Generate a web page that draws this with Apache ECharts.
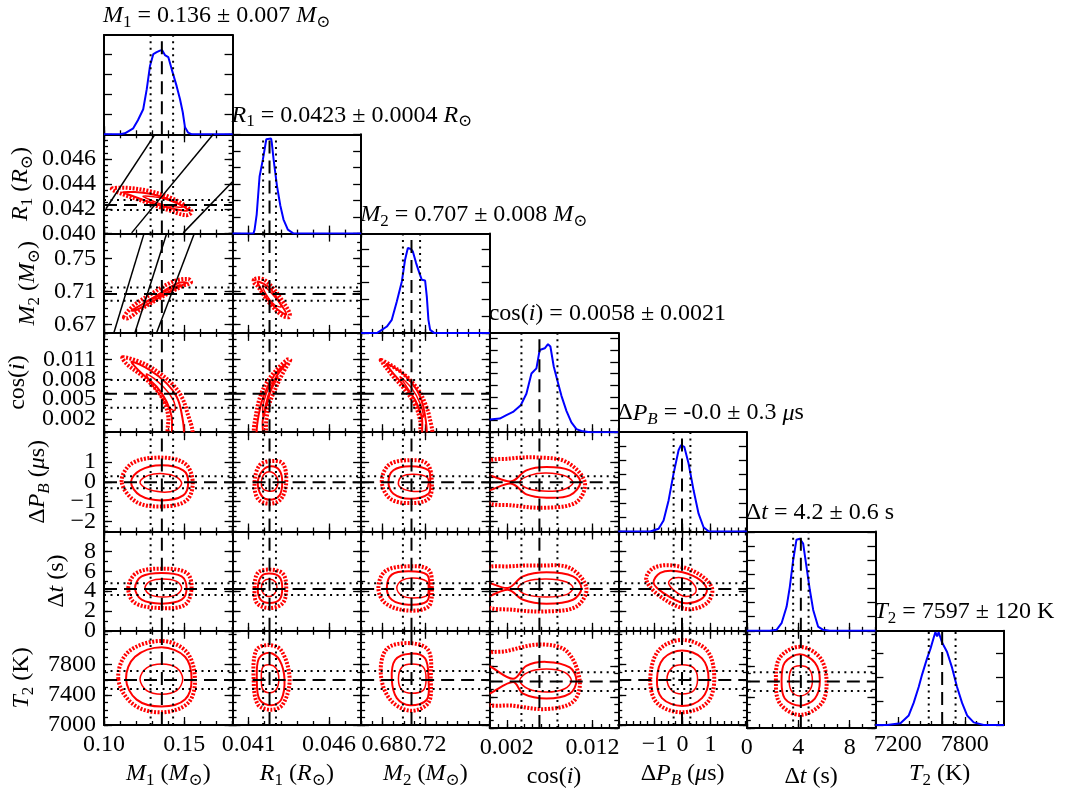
<!DOCTYPE html>
<html>
<head>
<meta charset="utf-8">
<script src="https://cdn.jsdelivr.net/npm/echarts@6/dist/echarts.min.js"></script>
<style>
html, body { margin: 0; padding: 0; background: #fff; }
#chart { width: 1065px; height: 790px; }
</style>
</head>
<body>
<div id="chart"></div>
<script>
// Corner plot of the posterior for seven fitted parameters:
// M1, R1, M2, cos(i), dP_B, dt, T2 (in that order everywhere below).

const SERIF = "'Liberation Serif', 'DejaVu Serif', serif";
const FS = 24;
const FS_SUB = 17;

const medians = [0.136, 0.0423, 0.707, 0.0058, -0.02, 4.2, 7597];
const sigmas = [0.007, 0.0004, 0.008, 0.0021, 0.3, 0.6, 120];
const summaryDecimals = [3, 4, 3, 4, 1, 1, 0];

// axis ranges (x: column variable, y: row variable)
const xMin = [0.10, 0.040, 0.66, 0, -2.3, 0, 7000];
const xMax = [0.18, 0.048, 0.78, 0.015, 2.3, 10, 8150];
const yMin = [null, 0.040, 0.66, 0, -2.5, 0, 7000];
const yMax = [null, 0.048, 0.78, 0.015, 2.5, 10, 8250];

// tick marks
const xMajor = [[0.10, 0.15], [0.041, 0.046], [0.68, 0.72], [0.002, 0.012], [-1, 0, 1], [0, 4, 8], [7200, 7800]];
const xMinorStep = [0.01, 0.001, 0.01, 0.001, 0.25, 1, 100];
const yMajor = [null, [0.040, 0.042, 0.044, 0.046], [0.67, 0.71, 0.75], [0.002, 0.005, 0.008, 0.011], [-2, -1, 0, 1], [0, 2, 4, 6, 8], [7000, 7400, 7800]];
const yMinorStep = [null, 0.0005, 0.01, 0.001, 0.25, 1, 100];
const tickDecimals = [2, 3, 2, 3, 0, 0, 0];
const yNameGap = [null, 68, 61, 71, 51, 32, 67];

// marginal histograms: [value, height]
const histTop = [4.95, 6, 5.93, 8.46, 6.97, 7.04, 3.96];
const histM1 = [[0.10,0],[0.110,0],[0.113,0.05],[0.1182,0.3],[0.1211,0.7],[0.1244,1.25],[0.1266,2.25],[0.1286,3.4],[0.1307,4.0],[0.1328,4.1],[0.1348,4.17],[0.1361,4.2],[0.1379,3.95],[0.140,3.85],[0.1421,3.25],[0.1452,2.4],[0.1473,1.75],[0.149,1.1],[0.1504,0.35],[0.1524,0.08],[0.1547,0],[0.18,0]];
const histR1 = [[0.040,0],[0.0413,0],[0.04137,0.24],[0.0415,1.15],[0.04168,3.45],[0.04189,4.5],[0.0421,5.7],[0.0422,5.74],[0.0424,5.74],[0.04244,5.5],[0.04255,4.5],[0.04276,2.9],[0.04297,1.7],[0.04317,0.85],[0.04344,0.24],[0.0438,0],[0.048,0]];
const histM2 = [[0.66,0],[0.675,0],[0.6793,0.18],[0.684,0.38],[0.6886,0.78],[0.6933,1.87],[0.698,3.07],[0.701,4.37],[0.7036,5.07],[0.7064,5.01],[0.7082,4.87],[0.7113,4.17],[0.7144,3.57],[0.7166,3.17],[0.7197,3.13],[0.7213,2.17],[0.7228,0.78],[0.7244,0.18],[0.7281,0],[0.78,0]];
const histCos = [[0,1.08],[0.00117,1.16],[0.00195,1.45],[0.00272,1.73],[0.00362,2.3],[0.00428,3.28],[0.00487,5.0],[0.00545,5.44],[0.00583,7.0],[0.00642,7.15],[0.0068,7.5],[0.00708,7.3],[0.00747,5.6],[0.00797,4.2],[0.00837,3.1],[0.00895,1.82],[0.00953,0.83],[0.01012,0.26],[0.0107,0.1],[0.0117,0],[0.015,0]];
const histDP = [[-2.3,0],[-1.155,0],[-0.858,0.19],[-0.68,0.77],[-0.5,2.18],[-0.322,4.06],[-0.143,5.7],[-0.057,6.06],[0.061,5.94],[0.215,4.77],[0.394,2.89],[0.573,1.25],[0.751,0.3],[0.93,0.02],[1.17,0],[2.3,0]];
const histDt = [[0,0],[1.79,0],[2.31,0.07],[2.7,0.54],[3.09,1.7],[3.34,3.1],[3.6,5.0],[3.86,6.46],[4.12,6.53],[4.38,6.18],[4.64,4.53],[4.9,2.89],[5.16,1.48],[5.54,0.3],[5.93,0.07],[6.45,0],[10,0]];
const histT2 = [[7000,0],[7105,0],[7224,0.07],[7298,0.4],[7342,0.93],[7387,1.6],[7418,2.13],[7462,2.8],[7492,3.2],[7521,3.67],[7536,3.9],[7552,3.73],[7566,3.9],[7596,3.47],[7641,3.07],[7686,2.4],[7730,1.6],[7775,0.93],[7820,0.4],[7879,0.11],[7968,0],[8150,0]];
const hists = [histM1, histR1, histM2, histCos, histDP, histDt, histT2];

// joint contours: [outer, middle, inner] rings in data units (x = column var, y = row var)
const ringsR1M1 = [
  [[0.1048,0.04361],[0.1141,0.04369],[0.1286,0.04342],[0.1431,0.04280],[0.1545,0.04180],[0.1514,0.04148],[0.1390,0.04194],[0.1244,0.04261],[0.1120,0.04315]],
  [[0.1120,0.04334],[0.1286,0.04321],[0.1431,0.04261],[0.1524,0.04188],[0.1431,0.04200],[0.1286,0.04253],[0.1182,0.04301]],
  [[0.1244,0.04301],[0.1369,0.04283],[0.1490,0.04216],[0.1390,0.04226],[0.1307,0.04261]]
];
const ringsM2M1 = [
  [[0.1124,0.6790],[0.1182,0.6927],[0.1286,0.7061],[0.1431,0.7222],[0.1524,0.7251],[0.1541,0.7210],[0.1483,0.7161],[0.1348,0.7021],[0.1224,0.6879],[0.1151,0.6778]],
  [[0.1172,0.6870],[0.1286,0.7000],[0.1452,0.7194],[0.1514,0.7210],[0.1473,0.7161],[0.1328,0.7008],[0.1203,0.6879]],
  [[0.1244,0.6960],[0.1369,0.7088],[0.1473,0.7182],[0.1431,0.7121],[0.1328,0.7033]]
];
const ringsM2R1 = [
  [[0.04137,0.7251],[0.04188,0.7251],[0.04251,0.7142],[0.04313,0.6979],[0.04355,0.6839],[0.04350,0.6790],[0.04303,0.6818],[0.04230,0.6960],[0.04157,0.7161],[0.04131,0.7214]],
  [[0.04157,0.7222],[0.04230,0.7142],[0.04303,0.6939],[0.04334,0.6827],[0.04282,0.6879],[0.04210,0.7021],[0.04168,0.7161]],
  [[0.04188,0.7170],[0.04251,0.7061],[0.04303,0.6919],[0.04261,0.6939],[0.04210,0.7061]]
];
const ringsCosM1 = [
  [[0.1116,0.01132],[0.1244,0.01041],[0.1348,0.00889],[0.1431,0.00712],[0.1483,0.00535],[0.1514,0.00333],[0.1545,-0.0006],[0.1406,-0.0006],[0.1400,0.00232],[0.1379,0.00435],[0.1328,0.00636],[0.1244,0.00838],[0.1141,0.01030]],
  [[0.1172,0.01065],[0.1286,0.00939],[0.1390,0.00738],[0.1452,0.00535],[0.1483,0.00283],[0.1493,-0.0006],[0.1431,-0.0006],[0.1421,0.00232],[0.1390,0.00459],[0.1328,0.00686],[0.1224,0.00914]],
  [[0.1266,0.00879],[0.1369,0.00686],[0.1431,0.00485],[0.1442,0.00333],[0.1400,0.00383],[0.1348,0.00561],[0.1286,0.00762]]
];
const ringsCosR1 = [
  [[0.04359,0.01091],[0.04323,0.00939],[0.04272,0.00686],[0.04230,0.00435],[0.04210,0.00182],[0.04199,-0.0006],[0.04137,-0.0006],[0.04147,0.00283],[0.04179,0.00586],[0.04230,0.00814],[0.04292,0.00989],[0.04344,0.01101]],
  [[0.04334,0.01041],[0.04272,0.00838],[0.04220,0.00535],[0.04188,0.00182],[0.04185,-0.0006],[0.04151,-0.0006],[0.04164,0.00283],[0.04199,0.00586],[0.04261,0.00864]],
  [[0.04282,0.00838],[0.04241,0.00636],[0.04210,0.00383],[0.04193,0.00232],[0.04188,0.00383],[0.04210,0.00586],[0.04241,0.00738]]
];
const ringsCosM2 = [
  [[0.6784,0.01091],[0.6901,0.00989],[0.7026,0.00838],[0.7135,0.00636],[0.7197,0.00435],[0.7237,0.00232],[0.7260,-0.0006],[0.7166,-0.0006],[0.7150,0.00182],[0.7104,0.00409],[0.7011,0.00636],[0.6901,0.00838],[0.6808,0.01030]],
  [[0.6840,0.01030],[0.6995,0.00879],[0.7120,0.00636],[0.7181,0.00383],[0.7213,-0.0006],[0.7175,-0.0006],[0.7166,0.00232],[0.7104,0.00485],[0.6995,0.00712],[0.6886,0.00914]],
  [[0.6964,0.00838],[0.7073,0.00662],[0.7150,0.00435],[0.7181,0.00232],[0.7150,0.00283],[0.7104,0.00485],[0.7026,0.00686]]
];
const ringsDpM1 = [
  [[0.1110,-0.010],[0.1172,0.919],[0.1348,1.222],[0.1504,0.919],[0.1552,-0.010],[0.1514,-0.934],[0.1369,-1.237],[0.1203,-1.020]],
  [[0.1168,-0.010],[0.1224,0.581],[0.1359,0.833],[0.1493,0.581],[0.1524,-0.010],[0.1493,-0.682],[0.1359,-0.934],[0.1224,-0.682]],
  [[0.1224,-0.010],[0.1276,0.328],[0.1369,0.414],[0.1452,0.242],[0.1483,-0.091],[0.1442,-0.430],[0.1359,-0.515],[0.1266,-0.344]]
];
const ringsDpR1 = [
  [[0.04137,-0.010],[0.04168,0.833],[0.04241,1.050],[0.04313,0.919],[0.04334,-0.010],[0.04303,-0.849],[0.04230,-1.101],[0.04157,-0.849]],
  [[0.04157,-0.010],[0.04188,0.581],[0.04241,0.783],[0.04292,0.581],[0.04309,-0.010],[0.04292,-0.682],[0.04230,-0.899],[0.04179,-0.682]],
  [[0.04179,-0.010],[0.04199,0.414],[0.04241,0.495],[0.04276,0.242],[0.04282,-0.091],[0.04261,-0.430],[0.04220,-0.465],[0.04188,-0.344]]
];
const ringsDpM2 = [
  [[0.6793,-0.010],[0.6855,0.833],[0.7026,1.086],[0.7213,0.919],[0.7260,-0.010],[0.7228,-0.849],[0.7057,-1.071],[0.6871,-0.849]],
  [[0.6855,-0.010],[0.6901,0.581],[0.7057,0.783],[0.7228,0.581],[0.7244,-0.010],[0.7228,-0.596],[0.7057,-0.849],[0.6901,-0.596]],
  [[0.6948,-0.010],[0.6980,0.278],[0.7088,0.379],[0.7213,0.242],[0.7228,-0.091],[0.7197,-0.430],[0.7057,-0.465],[0.6964,-0.263]]
];
const ringsDpCos = [
  [[-0.0005,0.919],[0.00233,1.171],[0.00584,1.222],[0.00895,1.000],[0.01109,-0.010],[0.01012,-1.020],[0.00662,-1.303],[0.00272,-1.187],[-0.0005,-0.934]],
  [[-0.0005,0.328],[0.00253,0.025],[0.00428,0.581],[0.00662,0.747],[0.00934,0.581],[0.01058,-0.010],[0.00934,-0.682],[0.00662,-0.798],[0.00428,-0.632],[0.00253,-0.091],[-0.0005,-0.430]],
  [[0.00350,-0.010],[0.00467,0.328],[0.00662,0.444],[0.00895,0.278],[0.00972,-0.061],[0.00855,-0.394],[0.00622,-0.465],[0.00428,-0.313]]
];
const ringsDtM1 = [
  [[0.1151,4.31],[0.1203,5.83],[0.1359,6.26],[0.1514,5.83],[0.1545,4.31],[0.1504,2.63],[0.1359,2.29],[0.1193,2.80]],
  [[0.1193,4.31],[0.1234,5.48],[0.1359,5.83],[0.1483,5.48],[0.1514,4.31],[0.1483,3.13],[0.1359,2.73],[0.1234,3.13]],
  [[0.1255,4.31],[0.1286,4.98],[0.1369,5.22],[0.1452,4.98],[0.1483,4.31],[0.1452,3.64],[0.1369,3.40],[0.1286,3.64]]
];
const ringsDtR1 = [
  [[0.04137,4.31],[0.04157,5.83],[0.04230,6.16],[0.04313,5.76],[0.04334,4.31],[0.04313,2.80],[0.04230,2.29],[0.04151,2.80]],
  [[0.04157,4.31],[0.04179,5.48],[0.04230,5.76],[0.04292,5.42],[0.04309,4.31],[0.04292,3.13],[0.04230,2.80],[0.04174,3.13]],
  [[0.04179,4.31],[0.04193,4.98],[0.04230,5.22],[0.04267,4.92],[0.04276,4.31],[0.04261,3.74],[0.04226,3.46],[0.04193,3.74]]
];
const ringsDtM2 = [
  [[0.6761,4.31],[0.6824,5.99],[0.7026,6.49],[0.7228,6.16],[0.7260,4.31],[0.7228,2.45],[0.7026,2.05],[0.6824,2.80]],
  [[0.6840,4.31],[0.6886,5.66],[0.7041,5.99],[0.7213,5.66],[0.7237,4.31],[0.7213,2.96],[0.7041,2.63],[0.6886,3.13]],
  [[0.6933,4.31],[0.6980,5.08],[0.7088,5.32],[0.7213,4.98],[0.7228,4.31],[0.7213,3.54],[0.7088,3.30],[0.6980,3.54]]
];
const ringsDtCos = [
  [[-0.0005,6.16],[0.00233,6.49],[0.00584,6.57],[0.00934,6.33],[0.01128,4.31],[0.01012,2.45],[0.00662,1.95],[0.00272,2.12],[-0.0005,2.63]],
  [[-0.0005,4.82],[0.00214,4.31],[0.00389,5.48],[0.00662,5.89],[0.00972,5.48],[0.0107,4.31],[0.00972,3.13],[0.00662,2.73],[0.00389,3.13],[0.00214,4.14],[-0.0005,3.46]],
  [[0.00330,4.31],[0.00428,4.98],[0.00662,5.22],[0.00895,4.92],[0.00972,4.31],[0.00895,3.64],[0.00662,3.40],[0.00428,3.64]]
];
const ringsDtDp = [
  [[-1.298,5.15],[-1.037,6.33],[-0.322,6.57],[0.515,5.83],[1.052,4.31],[0.873,2.80],[0.157,2.19],[-0.798,3.46]],
  [[-1.037,4.82],[-0.798,5.83],[-0.200,5.99],[0.515,5.32],[0.873,4.14],[0.633,3.13],[0.036,2.80],[-0.680,3.80]],
  [[-0.501,4.82],[-0.322,5.32],[0.157,5.22],[0.454,4.47],[0.454,3.81],[0.097,3.46],[-0.261,3.97]]
];
const ringsT2M1 = [
  [[0.1089,7610],[0.1151,7969],[0.1359,8115],[0.1514,7969],[0.1566,7610],[0.1524,7294],[0.1359,7168],[0.1182,7274]],
  [[0.1137,7610],[0.1193,7906],[0.1359,8032],[0.1504,7906],[0.1545,7610],[0.1504,7337],[0.1359,7244],[0.1203,7337]],
  [[0.1224,7610],[0.1266,7758],[0.1359,7808],[0.1452,7758],[0.1490,7610],[0.1452,7455],[0.1359,7408],[0.1266,7455]]
];
const ringsT2R1 = [
  [[0.04131,7610],[0.04147,7989],[0.04220,8061],[0.04303,7989],[0.04355,7610],[0.04313,7274],[0.04241,7202],[0.04157,7274]],
  [[0.04151,7610],[0.04164,7884],[0.04230,7960],[0.04292,7863],[0.04323,7610],[0.04303,7337],[0.04241,7261],[0.04168,7337]],
  [[0.04179,7610],[0.04188,7767],[0.04230,7799],[0.04272,7749],[0.04288,7610],[0.04272,7471],[0.04230,7429],[0.04188,7471]]
];
const ringsT2M2 = [
  [[0.6784,7673],[0.6840,8010],[0.7057,8086],[0.7228,7989],[0.7250,7610],[0.7228,7294],[0.7057,7189],[0.6871,7337]],
  [[0.6886,7610],[0.6917,7863],[0.7057,7947],[0.7197,7884],[0.7228,7610],[0.7213,7337],[0.7057,7261],[0.6933,7357]],
  [[0.6948,7610],[0.6980,7767],[0.7073,7808],[0.7181,7767],[0.7206,7610],[0.7181,7463],[0.7073,7421],[0.6980,7463]]
];
const ringsT2Cos = [
  [[-0.0005,7926],[0.00195,7989],[0.00584,8074],[0.00895,7989],[0.0105,7610],[0.00972,7337],[0.00662,7244],[0.00272,7287],[-0.0005,7337]],
  [[-0.0005,7799],[0.00272,7632],[0.00428,7799],[0.00662,7850],[0.00934,7779],[0.01012,7610],[0.00934,7442],[0.00662,7379],[0.00389,7442],[0.00272,7590],[-0.0005,7442]],
  [[0.0035,7610],[0.00447,7716],[0.00662,7758],[0.00875,7716],[0.00953,7610],[0.00875,7505],[0.00662,7463],[0.00447,7505]]
];
const ringsT2Dp = [
  [[-1.155,7610],[-0.858,7989],[-0.021,8128],[0.873,7989],[1.134,7610],[0.873,7294],[-0.021,7168],[-0.916,7294]],
  [[-0.916,7610],[-0.680,7884],[-0.021,7989],[0.694,7884],[0.930,7610],[0.694,7357],[-0.021,7253],[-0.737,7357]],
  [[-0.558,7610],[-0.379,7758],[-0.021,7799],[0.394,7758],[0.537,7610],[0.394,7455],[-0.021,7413],[-0.379,7455]]
];
const ringsT2Dt = [
  [[2.26,7610],[2.57,7906],[4.12,8044],[5.68,7906],[6.20,7610],[5.81,7316],[4.12,7168],[2.57,7316]],
  [[2.70,7610],[2.95,7842],[4.12,7947],[5.29,7842],[5.68,7610],[5.29,7379],[4.12,7287],[2.95,7379]],
  [[3.29,7610],[3.48,7758],[4.12,7799],[4.84,7758],[5.10,7610],[4.84,7471],[4.12,7413],[3.48,7471]]
];

// [row, column, contours]
const jointPanels = [
  [1, 0, ringsR1M1],
  [2, 0, ringsM2M1], [2, 1, ringsM2R1],
  [3, 0, ringsCosM1], [3, 1, ringsCosR1], [3, 2, ringsCosM2],
  [4, 0, ringsDpM1], [4, 1, ringsDpR1], [4, 2, ringsDpM2], [4, 3, ringsDpCos],
  [5, 0, ringsDtM1], [5, 1, ringsDtR1], [5, 2, ringsDtM2], [5, 3, ringsDtCos], [5, 4, ringsDtDp],
  [6, 0, ringsT2M1], [6, 1, ringsT2R1], [6, 2, ringsT2M2], [6, 3, ringsT2Cos], [6, 4, ringsT2Dp], [6, 5, ringsT2Dt]
];

// solid constraint lines in the M1 column
const constraintR1M1 = [[[0.1012,0.0420],[0.1317,0.048]], [[0.1172,0.04006],[0.168,0.048]], [[0.1493,0.04006],[0.1804,0.04423]]];
const constraintM2M1 = [[[0.1062,0.6604],[0.1249,0.78]], [[0.1193,0.6604],[0.139,0.78]], [[0.1328,0.6604],[0.1562,0.78]]];

// ---------- text ----------
const tok = (cls, s) => '{' + cls + '|' + s + '}';
const RICH = {
  rm: { fontFamily: SERIF, fontSize: FS, fontWeight: 'normal', fontStyle: 'normal', color: '#000', lineHeight: 27, verticalAlign: 'top' },
  it: { fontFamily: SERIF, fontSize: FS, fontWeight: 'normal', fontStyle: 'italic', color: '#000', lineHeight: 27, verticalAlign: 'top' },
  sb: { fontFamily: SERIF, fontSize: FS_SUB, fontWeight: 'normal', fontStyle: 'normal', color: '#000', lineHeight: 17, verticalAlign: 'top', padding: [10, 0, 0, 0] },
  si: { fontFamily: SERIF, fontSize: FS_SUB, fontWeight: 'normal', fontStyle: 'italic', color: '#000', lineHeight: 17, verticalAlign: 'top', padding: [10, 0, 0, 0] }
};
const symbolText = [
  tok('it', 'M') + tok('sb', '1'),
  tok('it', 'R') + tok('sb', '1'),
  tok('it', 'M') + tok('sb', '2'),
  tok('rm', 'cos(') + tok('it', 'i') + tok('rm', ')'),
  tok('rm', '\u0394') + tok('it', 'P') + tok('si', 'B'),
  tok('rm', '\u0394') + tok('it', 't'),
  tok('it', 'T') + tok('sb', '2')
];
const unitText = [
  tok('it', 'M') + tok('sb', '\u2299'),
  tok('it', 'R') + tok('sb', '\u2299'),
  tok('it', 'M') + tok('sb', '\u2299'),
  '',
  tok('it', '\u03bc') + tok('rm', 's'),
  tok('rm', 's'),
  tok('rm', 'K')
];
const axisName = k => unitText[k] ? symbolText[k] + tok('rm', ' (') + unitText[k] + tok('rm', ')') : symbolText[k];
const summaryText = k => symbolText[k] + tok('rm', ' = ' + medians[k].toFixed(summaryDecimals[k]) + ' \u00b1 ' + sigmas[k].toFixed(summaryDecimals[k]) + (unitText[k] ? ' ' : '')) + unitText[k];

// ---------- helpers ----------
function seq(lo, hi, step) {
  const out = [];
  const k0 = Math.ceil(lo / step - 1e-6), k1 = Math.floor(hi / step + 1e-6);
  for (let k = k0; k <= k1; k++) out.push(Number((k * step).toPrecision(12)));
  return out;
}
function fmtTick(v, d) {
  const s = Math.abs(v).toFixed(d);
  return v < -1e-12 ? '\u2212' + s : s;
}
const evenItems = arr => arr ? arr.filter((v, i) => i % 2 === 0) : null;
const oddItems = arr => arr ? arr.filter((v, i) => i % 2 === 1) : null;

const W = 128.57, H = 99.3, X0 = 104, Y0 = 35;
const colLeft = c => X0 + c * W;
const rowTop = r => Y0 + r * H;

const grids = [], xAxes = [], yAxes = [], series = [], titles = [];

function mkAxis(gridIndex, position, min, max, o) {
  const ax = {
    type: 'value', gridIndex, position, min, max, silent: true,
    splitLine: { show: false },
    axisLine: { show: !!o.line, onZero: false, lineStyle: { color: '#000', width: 2 } },
    axisTick: { show: !!o.ticks, inside: true, length: o.len || 8, lineStyle: { color: '#000', width: 1.3 }, customValues: o.ticks || [] },
    axisLabel: { show: !!(o.labels && o.labels.length), customValues: o.labels || [], margin: o.margin || 8, formatter: o.fmt,
      interval: 0, showMinLabel: true, showMaxLabel: true, hideOverlap: false,
      fontFamily: SERIF, fontSize: FS, color: '#000' }
  };
  if (o.name) {
    ax.name = o.name;
    ax.nameLocation = 'middle';
    ax.nameGap = o.nameGap;
    if (o.rotate) ax.nameRotate = o.rotate;
    ax.nameTextStyle = { rich: RICH, fontFamily: SERIF, fontSize: FS, color: '#000' };
  }
  return ax;
}
const pushX = a => (xAxes.push(a), xAxes.length - 1);
const pushY = a => (yAxes.push(a), yAxes.length - 1);

const DASH = { color: '#000', width: 2, type: [13, 7] };
const DOT = { color: '#000', width: 2, type: [2, 4.5] };
function lineSeries(xi, yi, data, style, z) {
  series.push({ type: 'line', xAxisIndex: xi, yAxisIndex: yi, data, symbol: 'none', silent: true,
    animation: false, z: z, lineStyle: style });
}

const RING_STYLE = [
  { lineWidth: 4, lineDash: [2, 1.5] },
  { lineWidth: 2, lineDash: null },
  { lineWidth: 1.5, lineDash: null }
];

// ---------- build panels ----------
// tick labels alternate between the two axes on a side so neighbouring labels never compete for space
for (let r = 0; r < 7; r++) {
  for (let c = 0; c <= r; c++) {
    const g = grids.length;
    grids.push({ left: colLeft(c), top: rowTop(r), width: W, height: H, containLabel: false });
    const bottomRow = r === 6;
    const xmin = xMin[c], xmax = xMax[c];
    const xMinorTicks = seq(xmin, xmax, xMinorStep[c]);
    const xFmt = v => fmtTick(v, tickDecimals[c]);
    const xLab = bottomRow ? xMajor[c] : null;

    // bottom x axis (minor + major)
    pushX(mkAxis(g, 'bottom', xmin, xmax, { ticks: xMinorTicks, len: 4, labels: oddItems(xLab), fmt: xFmt, margin: 8 }));
    const xi = pushX(mkAxis(g, 'bottom', xmin, xmax, {
      line: true, ticks: xMajor[c], len: 8,
      labels: evenItems(xLab), fmt: xFmt, margin: 8,
      name: bottomRow ? axisName(c) : null, nameGap: 37
    }));

    if (r === c) {
      // marginal histogram panel
      const top = histTop[c];
      const hTicks = seq(0, top, 1);
      pushX(mkAxis(g, 'top', xmin, xmax, { line: true }));
      const yi = pushY(mkAxis(g, 'left', 0, top, { line: true, ticks: hTicks, len: 8 }));
      pushY(mkAxis(g, 'right', 0, top, { line: true, ticks: hTicks, len: 8 }));
      series.push({ type: 'line', xAxisIndex: xi, yAxisIndex: yi, data: hists[c], symbol: 'none',
        silent: true, animation: false, z: 3, lineStyle: { color: '#0000ff', width: 2 } });
      lineSeries(xi, yi, [[medians[c], 0], [medians[c], top]], DASH, 4);
      lineSeries(xi, yi, [[medians[c] - sigmas[c], 0], [medians[c] - sigmas[c], top]], DOT, 4);
      lineSeries(xi, yi, [[medians[c] + sigmas[c], 0], [medians[c] + sigmas[c], top]], DOT, 4);
      titles.push({ text: summaryText(c), left: colLeft(c) - 1, top: rowTop(r) - 31, padding: 0,
        textStyle: { rich: RICH, fontFamily: SERIF, fontSize: FS, fontWeight: 'normal', color: '#000' } });
      continue;
    }

    // joint panel
    const ymin = yMin[r], ymax = yMax[r];
    const yMinorTicks = seq(ymin, ymax, yMinorStep[r]);
    const yFmt = v => fmtTick(v, tickDecimals[r]);
    const yLab = c === 0 ? yMajor[r] : null;
    pushX(mkAxis(g, 'top', xmin, xmax, { ticks: xMinorTicks, len: 4 }));
    pushX(mkAxis(g, 'top', xmin, xmax, { line: true, ticks: xMajor[c], len: 8 }));
    pushY(mkAxis(g, 'left', ymin, ymax, { ticks: yMinorTicks, len: 4, labels: oddItems(yLab), fmt: yFmt, margin: 8 }));
    const yi = pushY(mkAxis(g, 'left', ymin, ymax, {
      line: true, ticks: yMajor[r], len: 8,
      labels: evenItems(yLab), fmt: yFmt, margin: 8,
      name: c === 0 ? axisName(r) : null, nameGap: yNameGap[r], rotate: 90
    }));
    pushY(mkAxis(g, 'right', ymin, ymax, { ticks: yMinorTicks, len: 4 }));
    pushY(mkAxis(g, 'right', ymin, ymax, { line: true, ticks: yMajor[r], len: 8 }));

    const panel = jointPanels.find(p => p[0] === r && p[1] === c);
    const rings = panel[2];
    series.push({
      type: 'custom', xAxisIndex: xi, yAxisIndex: yi, silent: true, animation: false, z: 2,
      data: rings.map((ring, k) => [k]),
      renderItem: (params, api) => {
        const ring = rings[params.dataIndex];
        const st = RING_STYLE[params.dataIndex];
        const cs = params.coordSys;
        return {
          type: 'polygon',
          shape: { points: ring.map(p => api.coord(p)), smooth: 0.35 },
          style: { fill: 'none', stroke: '#ff0000', lineWidth: st.lineWidth, lineDash: st.lineDash },
          clipPath: { type: 'rect', shape: { x: cs.x, y: cs.y, width: cs.width, height: cs.height } }
        };
      }
    });

    if (r === 1 && c === 0) constraintR1M1.forEach(seg => lineSeries(xi, yi, seg, { color: '#000', width: 1.5 }, 3));
    if (r === 2 && c === 0) constraintM2M1.forEach(seg => lineSeries(xi, yi, seg, { color: '#000', width: 1.5 }, 3));

    // median (dashed) and one-sigma (dotted) guides
    lineSeries(xi, yi, [[medians[c], ymin], [medians[c], ymax]], DASH, 4);
    lineSeries(xi, yi, [[medians[c] - sigmas[c], ymin], [medians[c] - sigmas[c], ymax]], DOT, 4);
    lineSeries(xi, yi, [[medians[c] + sigmas[c], ymin], [medians[c] + sigmas[c], ymax]], DOT, 4);
    lineSeries(xi, yi, [[xmin, medians[r]], [xmax, medians[r]]], DASH, 4);
    lineSeries(xi, yi, [[xmin, medians[r] - sigmas[r]], [xmax, medians[r] - sigmas[r]]], DOT, 4);
    lineSeries(xi, yi, [[xmin, medians[r] + sigmas[r]], [xmax, medians[r] + sigmas[r]]], DOT, 4);
  }
}

const chart = echarts.init(document.getElementById('chart'), null, { renderer: 'canvas' });
chart.setOption({
  animation: false,
  backgroundColor: '#fff',
  title: titles,
  grid: grids,
  xAxis: xAxes,
  yAxis: yAxes,
  series: series
});
</script>
</body>
</html>
